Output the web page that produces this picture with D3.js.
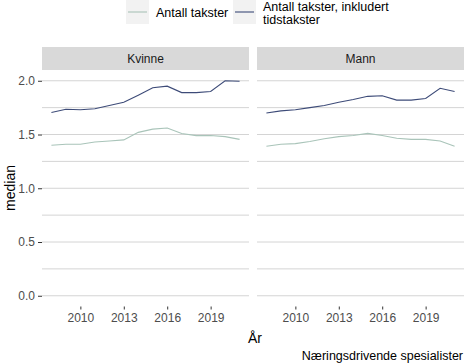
<!DOCTYPE html>
<html lang="no">
<head>
<meta charset="UTF-8">
<script src="https://d3js.org/d3.v7.min.js"></script>
<style>
  body { margin: 0; background: #fff; }
  text { font-family: "Liberation Sans", Arial, sans-serif; }
  .axis path { display: none; }
  .axis line { stroke: #333; }
  .axis text { fill: #4d4d4d; font-size: 12px; }
</style>
</head>
<body>
<svg width="465" height="363"></svg>
<script>
// data
const years = [2008, 2009, 2010, 2011, 2012, 2013, 2014, 2015, 2016, 2017, 2018, 2019, 2020, 2021];
const panels = ["Kvinne", "Mann"];
const seriesNames = ["Antall takster", "Antall takster, inkludert tidstakster"];
const kvinneTakster = [1.40, 1.41, 1.41, 1.43, 1.44, 1.45, 1.52, 1.55, 1.56, 1.51, 1.49, 1.49, 1.48, 1.455];
const kvinneTid     = [1.705, 1.735, 1.73, 1.74, 1.77, 1.80, 1.866, 1.935, 1.95, 1.89, 1.89, 1.90, 2.00, 1.995];
const mannTakster   = [1.39, 1.41, 1.415, 1.435, 1.46, 1.48, 1.49, 1.51, 1.49, 1.465, 1.455, 1.455, 1.44, 1.39];
const mannTid       = [1.70, 1.72, 1.73, 1.75, 1.77, 1.80, 1.825, 1.855, 1.86, 1.82, 1.82, 1.835, 1.93, 1.90];
const xTicks = [2010, 2013, 2016, 2019];
const yTicks = [0, 0.5, 1.0, 1.5, 2.0];
const yMinor = [0.25, 0.75, 1.25, 1.75];

const colors = ["#a9c4b9", "#3d4b78"];
const panelData = {
  Kvinne: [kvinneTakster, kvinneTid],
  Mann: [mannTakster, mannTid]
};

const svg = d3.select("svg");

const panelX = [[42, 249], [257, 464]];
const plotTop = 70, plotBottom = 306.5;

const allVals = [].concat(kvinneTakster, kvinneTid, mannTakster, mannTid);
const yMax = d3.max(allVals);
const yPad = (yMax - 0) * 0.05;
const y = d3.scaleLinear().domain([0 - yPad, yMax + yPad]).range([plotBottom, plotTop]);

panels.forEach((p, i) => {
  const [x0, x1] = panelX[i];
  const xPad = (years[years.length - 1] - years[0]) * 0.05;
  const x = d3.scaleLinear()
    .domain([years[0] - xPad, years[years.length - 1] + xPad])
    .range([x0, x1]);

  // strip
  svg.append("rect").attr("x", x0).attr("y", 47).attr("width", x1 - x0).attr("height", plotTop - 47)
    .attr("fill", "#d9d9d9");
  svg.append("text").attr("x", (x0 + x1) / 2).attr("y", 63).attr("text-anchor", "middle")
    .attr("font-size", 12).attr("fill", "#1a1a1a").text(p);

  // grid
  svg.append("g").selectAll("line").data(yTicks.concat(yMinor)).join("line")
    .attr("x1", x0).attr("x2", x1)
    .attr("y1", d => y(d)).attr("y2", d => y(d))
    .attr("stroke", "#d4d4d4").attr("stroke-width", 1);

  // x axis
  svg.append("g").attr("class", "axis")
    .attr("transform", `translate(0,${plotBottom})`)
    .call(d3.axisBottom(x).tickValues(xTicks).tickFormat(d3.format("d")).tickSize(3).tickPadding(4));

  // y axis only on first panel
  if (i === 0) {
    svg.append("g").attr("class", "axis")
      .attr("transform", `translate(${x0},0)`)
      .call(d3.axisLeft(y).tickValues(yTicks).tickFormat(d3.format(".1f")).tickSize(4).tickPadding(3));
  }

  // lines
  const line = d3.line().x((d, k) => x(years[k])).y(d => y(d));
  panelData[p].forEach((vals, s) => {
    svg.append("path").datum(vals)
      .attr("fill", "none").attr("stroke", colors[s]).attr("stroke-width", 1.1)
      .attr("d", line);
  });
});

// axis titles
svg.append("text").attr("x", 255).attr("y", 343).attr("text-anchor", "middle")
  .attr("font-size", 14).attr("fill", "#000").text("År");
svg.append("text").attr("transform", "translate(15,188) rotate(-90)").attr("text-anchor", "middle")
  .attr("font-size", 14).attr("fill", "#000").text("median");

// caption
svg.append("text").attr("x", 463).attr("y", 360).attr("text-anchor", "end")
  .attr("font-size", 12.5).attr("fill", "#000").text("Næringsdrivende spesialister");

// legend
const legend = [
  { x: 126, lines: ["Antall takster"] },
  { x: 233, lines: ["Antall takster, inkludert", "tidstakster"] }
];
legend.forEach((l, i) => {
  svg.append("rect").attr("x", l.x).attr("y", 0).attr("width", 23).attr("height", 24).attr("fill", "#f2f2f2");
  svg.append("line").attr("x1", l.x + 2).attr("x2", l.x + 21).attr("y1", 12).attr("y2", 12)
    .attr("stroke", colors[i]).attr("stroke-width", 1.1);
  if (l.lines.length === 1) {
    svg.append("text").attr("font-size", 12.5).attr("fill", "#000")
      .attr("x", l.x + 30).attr("y", 17).text(l.lines[0]);
  } else {
    l.lines.forEach((s, k) => svg.append("text").attr("font-size", 12.5).attr("fill", "#000")
      .attr("x", l.x + 30).attr("y", 11 + k * 13).text(s));
  }
});
</script>
</body>
</html>
